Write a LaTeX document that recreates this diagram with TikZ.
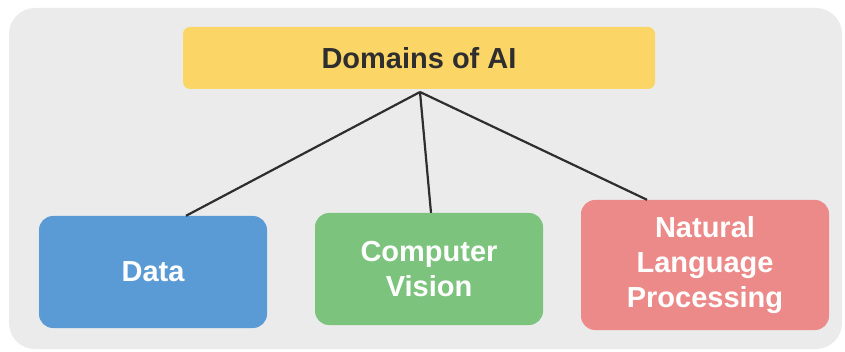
\documentclass[tikz,border=0pt]{standalone}
\usepackage{fontspec}
\setmainfont{Liberation Sans}
\definecolor{panelgray}{HTML}{EBEBEB}
\definecolor{titleyellow}{HTML}{FBD566}
\definecolor{datablue}{HTML}{5B9BD5}
\definecolor{visiongreen}{HTML}{7CC47D}
\definecolor{nlpred}{HTML}{EC8A8A}
\definecolor{linkgray}{HTML}{2E2E2E}
\tikzset{
  domainbox/.style={rectangle,rounded corners=14pt,draw=none,
    text=white,align=center,font=\fontsize{29}{35}\selectfont\bfseries},
  link/.style={draw=linkgray,line width=2.2pt}
}
\begin{document}
\begin{tikzpicture}[x=1pt,y=-1pt]
      \useasboundingbox (0,0) rectangle (845,352);
      \fill[panelgray,rounded corners=26pt] (9,8) rectangle (842,349);
      \node[rectangle,rounded corners=7pt,fill=titleyellow,
        minimum width=472pt,minimum height=62pt,text=linkgray,
        font=\fontsize{29}{35}\selectfont\bfseries] (title) at (419,58) {Domains of AI};
      \node[domainbox,fill=datablue,minimum width=228pt,minimum height=112pt]
        (data) at (153,272) {Data};
      \node[domainbox,fill=visiongreen,minimum width=228pt,minimum height=112pt]
        (vision) at (429,269) {Computer\\Vision};
      \node[domainbox,fill=nlpred,minimum width=248pt,minimum height=130pt]
        (nlp) at (705,265) {Natural\\Language\\Processing};
      \coordinate (apex) at (420,92);
      \draw[link] (apex) -- (data.north -| 186,0);
      \draw[link] (apex) -- (vision.north -| 431,0);
      \draw[link] (apex) -- (nlp.north -| 647,0);
\end{tikzpicture}
\end{document}
